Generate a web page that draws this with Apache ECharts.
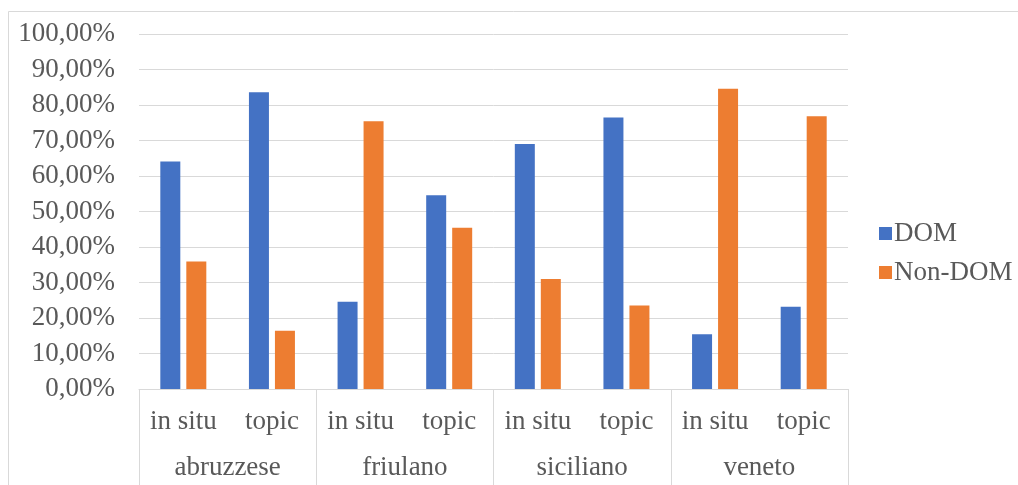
<!DOCTYPE html>
<html>
<head>
<meta charset="utf-8">
<script src="https://cdn.jsdelivr.net/npm/echarts@6/dist/echarts.min.js"></script>
<style>
html,body{margin:0;padding:0;background:#fff;}
#c{width:1018px;height:485px;}
</style>
</head>
<body>
<div id="c"></div>
<script>
const subCategories = ['in situ','topic','in situ','topic','in situ','topic','in situ','topic'];
const groups = ['abruzzese','friulano','siciliano','veneto'];
const domValues = [64.1, 83.6, 24.6, 54.6, 69.0, 76.5, 15.4, 23.2];
const nonDomValues = [35.9, 16.4, 75.4, 45.4, 31.0, 23.5, 84.6, 76.8];
const yTicks = [0,10,20,30,40,50,60,70,80,90,100];

const FONT = '"Liberation Serif", "Times New Roman", serif';
const TXT = '#595959';
const LINE = '#d9d9d9';
const FS = 27;

const chart = echarts.init(document.getElementById('c'), null, {renderer:'canvas'});
chart.setOption({
  animation:false,
  backgroundColor:'#fff',
  textStyle:{fontFamily:FONT},
  graphic:[{type:'rect', shape:{x:8.5,y:11.5,width:1200,height:600}, style:{fill:'none',stroke:LINE,lineWidth:1}, silent:true, z:-10}],
  grid:{left:139, right:170, top:34, bottom:96, containLabel:false},
  legend:{
    orient:'vertical', left:874, top:215,
    itemWidth:13, itemHeight:13, itemGap:12,
    icon:'rect',
    textStyle:{fontFamily:FONT, fontSize:FS, color:TXT, lineHeight:27, padding:[0,0,0,-3]},
    data:['DOM','Non-DOM']
  },
  xAxis:[
    {type:'category', data:subCategories, position:'bottom',
     axisLine:{show:true,lineStyle:{color:LINE,width:1}},
     axisTick:{show:false},
     axisLabel:{interval:0, margin:19, fontFamily:FONT, fontSize:FS, color:TXT}},
    {type:'category', data:groups, position:'bottom', gridIndex:0,
     axisLine:{show:false},
     axisTick:{show:true, length:110, interval:0, lineStyle:{color:LINE,width:1}},
     axisLabel:{interval:0, margin:65, fontFamily:FONT, fontSize:FS, color:TXT}}
  ],
  yAxis:{type:'value', min:0, max:100, interval:10,
    axisLine:{show:false}, axisTick:{show:false},
    splitLine:{lineStyle:{color:LINE,width:1}},
    axisLabel:{margin:24, fontFamily:FONT, fontSize:FS, color:TXT,
      formatter:v=>v.toFixed(2).replace('.',',')+'%'}},
  series:[
    {name:'DOM', type:'bar', xAxisIndex:0, data:domValues, barWidth:20, barGap:'30%',
     itemStyle:{color:'#4472C4'}},
    {name:'Non-DOM', type:'bar', xAxisIndex:0, data:nonDomValues, barWidth:20, barGap:'30%',
     itemStyle:{color:'#ED7D31'}}
  ]
});
</script>
</body>
</html>
